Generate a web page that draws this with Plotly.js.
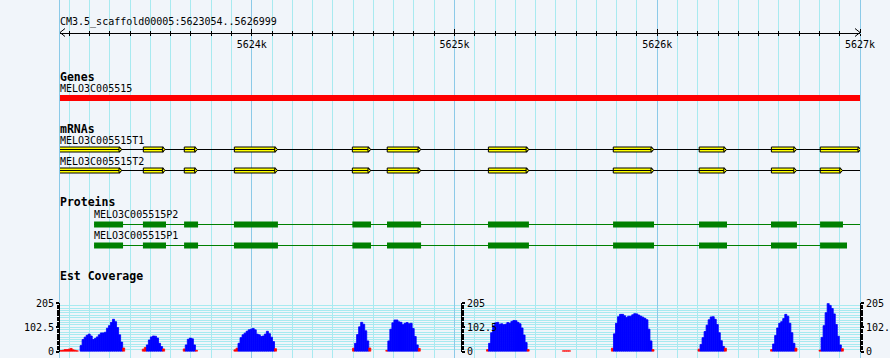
<!DOCTYPE html>
<html><head><meta charset="utf-8">
<script src="https://cdn.plot.ly/plotly-3.0.1.min.js"></script>
<style>html,body{margin:0;padding:0;background:#F1F5FA;} #chart{width:890px;height:358px;}</style>
</head><body><div id="chart"></div>
<script>
// ---------- data ----------
const regionName = 'CM3.5_scaffold00005';
const viewStart = 5623054, viewEnd = 5626999;
const rulerTickVals = [5624000, 5625000, 5626000, 5627000];
const rulerTickText = ['5624k', '5625k', '5626k', '5627k'];

const geneName = 'MELO3C005515';
const geneStart = 5622900, geneEnd = 5627100;

const mrnaNames = ['MELO3C005515T1', 'MELO3C005515T2'];
const mrnaStarts = [5622900, 5622900];
const mrnaEnds = [5627100, 5627100];
const exonStartsT1 = [5623040, 5623465, 5623667, 5623914, 5624496, 5624668, 5625167, 5625783, 5626207, 5626563, 5626804];
const exonEndsT1   = [5623350, 5623564, 5623723, 5624118, 5624578, 5624825, 5625358, 5625974, 5626333, 5626678, 5626995];
const exonStartsT2 = [5623040, 5623465, 5623667, 5623914, 5624496, 5624668, 5625167, 5625783, 5626207, 5626563, 5626804];
const exonEndsT2   = [5623350, 5623564, 5623723, 5624118, 5624578, 5624825, 5625358, 5625974, 5626333, 5626678, 5626905];

const protNames = ['MELO3C005515P2', 'MELO3C005515P1'];
const protStarts = [5623222, 5623222];
const protEnds = [5627020, 5626936];
const cdsStartsP2 = [5623222, 5623463, 5623666, 5623912, 5624496, 5624667, 5625165, 5625782, 5626206, 5626561, 5626803];
const cdsEndsP2   = [5623365, 5623577, 5623735, 5624129, 5624588, 5624835, 5625367, 5625984, 5626344, 5626689, 5626916];
const cdsStartsP1 = [5623222, 5623463, 5623666, 5623912, 5624496, 5624667, 5625165, 5625782, 5626206, 5626561, 5626803];
const cdsEndsP1   = [5623365, 5623577, 5623735, 5624129, 5624588, 5624835, 5625367, 5625984, 5626344, 5626689, 5626936];

// EST coverage: blocks of 10 bp bins
const covBin = 10;
const covMax = 205;
const covTickVals = [0, 102.5, 205];
const covTickText = ['0', '102.5', '205'];
const covStarts = [5623054, 5623153, 5623460, 5623662, 5623912, 5624497, 5624661, 5625158, 5625532, 5625774, 5626201, 5626559, 5626798];
const cov0  = [4, 5, 8, 8, 10, 13, 7, 5, 3];
const cov1  = [25, 51, 61, 69, 74, 66, 51, 55, 62, 71, 79, 79, 82, 99, 110, 124, 137, 127, 102, 71, 40, 15];
const cov2  = [10, 17, 28, 49, 62, 66, 65, 57, 35, 21, 11];
const cov3  = [11, 28, 52, 57, 54, 28, 5];
const cov4  = [7, 14, 35, 59, 71, 78, 86, 92, 95, 98, 92, 74, 71, 64, 66, 74, 86, 76, 61, 42, 12];
const cov5  = [14, 35, 72, 105, 124, 116, 88, 45, 15];
const cov6  = [5, 45, 95, 122, 134, 134, 126, 124, 114, 120, 123, 118, 120, 98, 64, 28, 13];
const cov7  = [8, 35, 80, 110, 122, 124, 116, 118, 114, 116, 123, 120, 128, 132, 131, 124, 118, 100, 70, 38, 8];
const cov8  = [3, 3, 3, 3];
const cov9  = [14, 75, 120, 148, 158, 158, 152, 145, 150, 150, 156, 161, 160, 155, 150, 146, 141, 135, 95, 45, 8];
const cov10 = [10, 30, 59, 85, 112, 135, 147, 148, 137, 115, 80, 46, 22, 14];
const cov11 = [8, 32, 68, 100, 120, 127, 140, 158, 150, 120, 80, 35, 14];
const cov12 = [6, 60, 110, 165, 205, 196, 183, 160, 115, 65, 28, 12];
const covBlocks = [cov0, cov1, cov2, cov3, cov4, cov5, cov6, cov7, cov8, cov9, cov10, cov11, cov12];
const covLowCut = 20;

// ---------- styles / layout constants ----------
const MONO = 'DejaVu Sans Mono';
const BG = '#F1F5FA';
const GRID_MINOR = '#A8EAF0';
const GRID_MAJOR = '#8CCAE8';
const H = 358;
const Y = {title: 21.5, ruler: 32.5, genesLbl: 76.5, geneLbl: 88, gene: 98,
  mrnaLbl: 128.5, t1Lbl: 140.5, t1: 149.5, t2Lbl: 161, t2: 170.5,
  protLbl: 201.5, p2Lbl: 214.5, p2: 224.5, p1Lbl: 235, p1: 245.5, estLbl: 276};
const covTopPx = 303.3, covBotPx = 351.5;

const traces = [];
// gene
traces.push({type: 'bar', orientation: 'h', y: [Y.gene], x: [geneEnd - geneStart], base: [geneStart],
  width: 6, marker: {color: '#FF0000', line: {width: 0}}, xaxis: 'x', yaxis: 'y'});

function transcript(start, end, exS, exE, yy) {
  traces.push({type: 'scatter', mode: 'lines', x: [start, end], y: [yy, yy],
    line: {color: '#000', width: 1}, xaxis: 'x', yaxis: 'y'});
  traces.push({type: 'bar', orientation: 'h', y: exS.map(() => yy), x: exS.map((s, i) => exE[i] - s), base: exS,
    width: 5, marker: {color: '#FFFF00', line: {color: '#000', width: 1}}, xaxis: 'x', yaxis: 'y'});
  traces.push({type: 'scatter', mode: 'markers', x: exE, y: exE.map(() => yy),
    marker: {symbol: 'triangle-right', size: 4, color: '#FFFF00', line: {color: '#000', width: 1}}, xaxis: 'x', yaxis: 'y'});
}
transcript(mrnaStarts[0], mrnaEnds[0], exonStartsT1, exonEndsT1, Y.t1);
transcript(mrnaStarts[1], mrnaEnds[1], exonStartsT2, exonEndsT2, Y.t2);

function protein(start, end, cS, cE, yy) {
  traces.push({type: 'scatter', mode: 'lines', x: [start, end], y: [yy, yy],
    line: {color: '#008000', width: 1}, xaxis: 'x', yaxis: 'y'});
  traces.push({type: 'bar', orientation: 'h', y: cS.map(() => yy), x: cS.map((s, i) => cE[i] - s), base: cS,
    width: 6, marker: {color: '#008000', line: {width: 0}}, xaxis: 'x', yaxis: 'y'});
}
protein(protStarts[0], protEnds[0], cdsStartsP2, cdsEndsP2, Y.p2);
protein(protStarts[1], protEnds[1], cdsStartsP1, cdsEndsP1, Y.p1);

// coverage
const covX = [], covY = [], covC = [];
covBlocks.forEach((vals, b) => {
  vals.forEach((v, i) => {
    covX.push(covStarts[b] + covBin * i + covBin / 2);
    covY.push(v);
    covC.push(v < covLowCut ? '#FF0000' : '#0000FF');
  });
});
traces.push({type: 'bar', x: covX, y: covY, width: covBin, marker: {color: covC, line: {color: covC, width: 0.8}},
  xaxis: 'x', yaxis: 'y2'});

// dummy traces for extra axes
traces.push({type: 'scatter', mode: 'markers', x: [viewStart], y: [0], marker: {opacity: 0}, xaxis: 'x2', yaxis: 'y'});
traces.push({type: 'scatter', mode: 'markers', x: [viewStart], y: [0], marker: {opacity: 0}, xaxis: 'x', yaxis: 'y3'});
traces.push({type: 'scatter', mode: 'markers', x: [viewStart], y: [0], marker: {opacity: 0}, xaxis: 'x', yaxis: 'y4'});

const rulerPos = 1 - Y.ruler / H;
const covDomain = [(H - covBotPx) / H, (H - covTopPx) / H];
function covAxis(extra) {
  return Object.assign({
    domain: covDomain, range: [0, covMax], type: 'linear', showline: true, linecolor: '#000', linewidth: 1,
    ticks: 'outside', ticklen: 3, tickwidth: 2, tickcolor: '#000', tickmode: 'array',
    tickvals: covTickVals, ticktext: covTickText, tickfont: {family: MONO, size: 10, color: '#000'},
    zeroline: false, fixedrange: true,
    minor: {tickmode: 'linear', tick0: 0, dtick: covMax / 20, ticks: 'outside', ticklen: 2, tickcolor: '#000', showgrid: false}
  }, extra);
}

function txt(text, xref, x, y, bold) {
  return {text: bold ? '<b>' + text + '</b>' : text, xref: xref, x: x, xanchor: 'left', yref: 'y', y: y, yanchor: 'middle',
    showarrow: false, borderpad: 0, borderwidth: 0,
    font: {family: MONO, size: bold ? 11.5 : 10, color: '#000'}};
}
const annotations = [
  txt(regionName + ':' + viewStart + '..' + viewEnd, 'paper', 0, Y.title, false),
  txt('Genes', 'paper', 0, Y.genesLbl, true),
  txt(geneName, 'paper', 0, Y.geneLbl, false),
  txt('mRNAs', 'paper', 0, Y.mrnaLbl, true),
  txt(mrnaNames[0], 'paper', 0, Y.t1Lbl, false),
  txt(mrnaNames[1], 'paper', 0, Y.t2Lbl, false),
  txt('Proteins', 'paper', 0, Y.protLbl, true),
  txt(protNames[0], 'x', protStarts[0], Y.p2Lbl, false),
  txt(protNames[1], 'x', protStarts[1], Y.p1Lbl, false),
  txt('Est Coverage', 'paper', 0, Y.estLbl, true)
];

const shapes = [
  {type: 'path', xref: 'x', xsizemode: 'pixel', xanchor: viewStart, yref: 'y', ysizemode: 'pixel', yanchor: Y.ruler,
    path: 'M 5,4 L 0,0 L 5,-4', line: {color: '#000', width: 1}},
  {type: 'path', xref: 'x', xsizemode: 'pixel', xanchor: viewEnd + 1, yref: 'y', ysizemode: 'pixel', yanchor: Y.ruler,
    path: 'M -5,4 L 0,0 L -5,-4', line: {color: '#000', width: 1}}
];

const layout = {
  width: 890, height: 358, margin: {l: 60, r: 30, t: 0, b: 0, pad: 0},
  paper_bgcolor: BG, plot_bgcolor: BG, showlegend: false, hovermode: false, barmode: 'overlay',
  font: {family: MONO, size: 10, color: '#000'},
  xaxis: {range: [viewStart, viewEnd + 1], type: 'linear', anchor: 'free', position: rulerPos, side: 'bottom',
    showline: true, linecolor: '#000', linewidth: 1, ticks: 'outside', ticklen: 2, tickwidth: 1, tickcolor: '#000',
    tickmode: 'array', tickvals: rulerTickVals, ticktext: rulerTickText, tickfont: {family: MONO, size: 10, color: '#000'},
    showgrid: true, gridcolor: GRID_MAJOR, gridwidth: 1, zeroline: false, fixedrange: true,
    minor: {tickmode: 'linear', tick0: 0, dtick: 100, ticks: 'outside', ticklen: 2, tickcolor: '#000',
      showgrid: true, gridcolor: GRID_MINOR, gridwidth: 1}},
  xaxis2: {overlaying: 'x', matches: 'x', type: 'linear', anchor: 'free', position: rulerPos, side: 'top',
    ticks: 'outside', ticklen: 4, tickwidth: 1, tickcolor: '#000', tickmode: 'array', tickvals: rulerTickVals,
    showticklabels: false, showline: false, showgrid: false, zeroline: false, fixedrange: true,
    minor: {tickmode: 'linear', tick0: 0, dtick: 100, ticks: 'outside', ticklen: 2, tickcolor: '#000', showgrid: false}},
  yaxis: {domain: [0, 1], range: [H, 0], type: 'linear', anchor: 'x', showline: true, mirror: true, linecolor: GRID_MAJOR,
    linewidth: 1, ticks: '', showticklabels: false, showgrid: false, zeroline: false, fixedrange: true},
  yaxis2: covAxis({anchor: 'x', side: 'left', showgrid: true, gridcolor: GRID_MINOR,
    minor: {tickmode: 'linear', tick0: 0, dtick: covMax / 20, ticks: 'outside', ticklen: 2, tickcolor: '#000',
      showgrid: true, gridcolor: GRID_MINOR, gridwidth: 1}}),
  yaxis3: covAxis({overlaying: 'y2', anchor: 'free', position: 0.50125, side: 'right', showgrid: false}),
  yaxis4: covAxis({overlaying: 'y2', anchor: 'free', position: 1, side: 'right', showgrid: false}),
  annotations: annotations,
  shapes: shapes
};

Plotly.newPlot('chart', traces, layout, {staticPlot: true, displayModeBar: false});
</script>
</body></html>
